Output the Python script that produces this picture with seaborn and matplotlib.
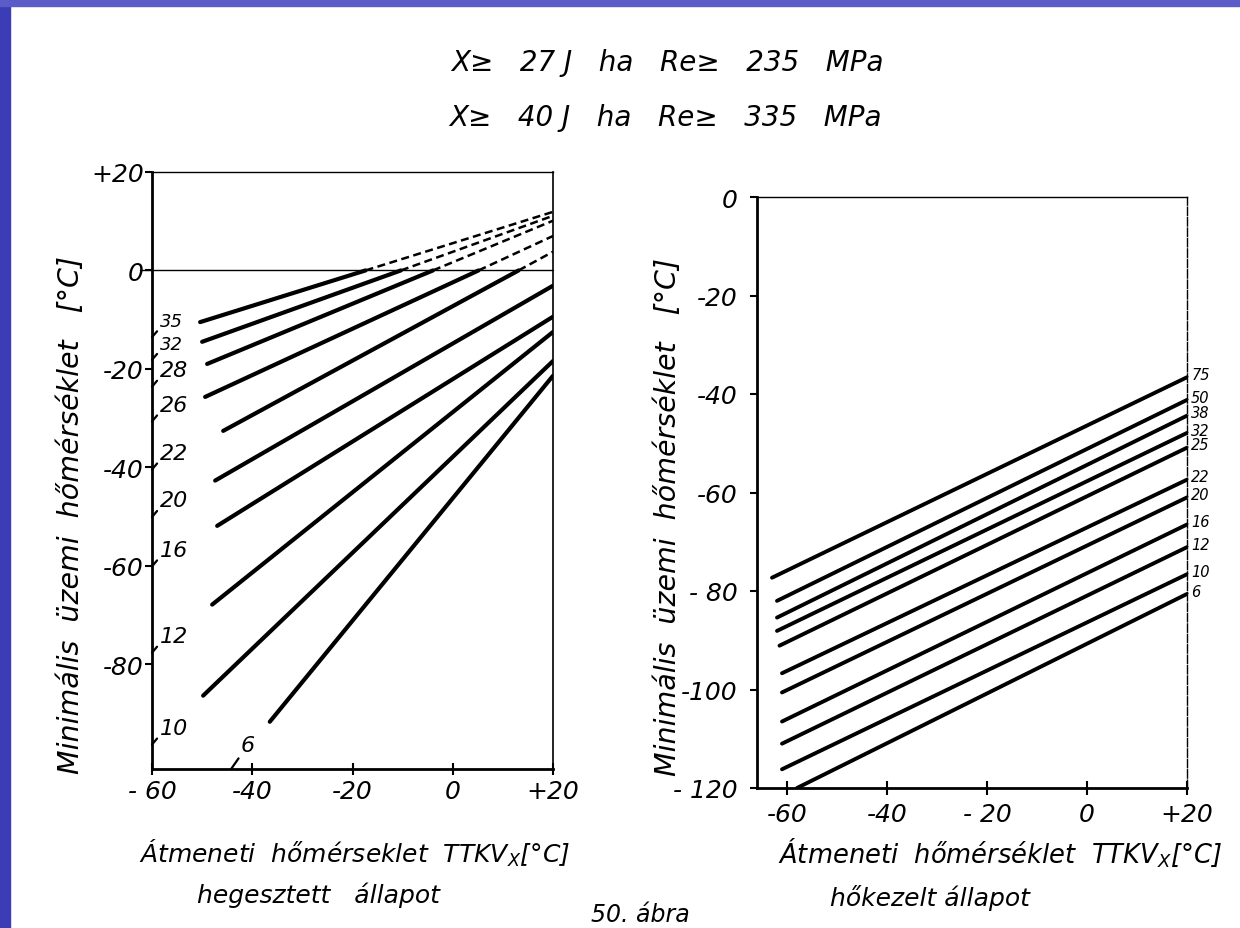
import numpy as np
import pandas as pd
import matplotlib
matplotlib.use("Agg")
import matplotlib.pyplot as plt
import seaborn as sns
from matplotlib.patches import Rectangle

# --- data ---
X_END = 20

# left chart: hegesztett allapot (curves labelled by plate thickness)
weld_labels = ['35', '32', '28', '26', '22', '20', '16', '12', '10', '6']
weld_x_start = [-50.4, -50.0, -49.0, -49.4, -45.8, -47.4, -47.0, -48.0, -49.8, -36.5]
weld_y_start = [-10.5, -14.5, -19.0, -25.7, -32.6, -42.7, -51.9, -67.9, -86.4, -91.7]
weld_y_end = [11.9, 11.1, 10.1, 7.0, 3.8, -3.1, -9.4, -12.5, -18.4, -21.4]

# right chart: hokezelt allapot
heat_labels = ['75', '50', '38', '32', '25', '22', '20', '16', '12', '10', '6']
heat_x_start = [-63, -62, -62, -62, -61.5, -61, -61, -61, -61, -61, -58]
heat_y_start = [-77.3, -82.0, -85.4, -88.1, -91.1, -96.7, -100.6, -106.5, -111.0, -116.2, -120.0]
heat_y_end = [-36.6, -41.2, -44.4, -47.9, -50.9, -57.4, -61.0, -66.5, -71.1, -76.6, -80.6]

x_ticks = [-60, -40, -20, 0, 20]
weld_xtick_labels = ['- 60', '-40', '-20', '0', '+20']
heat_xtick_labels = ['-60', '-40', '- 20', '0', '+20']
weld_y_ticks = [20, 0, -20, -40, -60, -80]
weld_ytick_labels = ['+20', '0', '-20', '-40', '-60', '-80']
heat_y_ticks = [0, -20, -40, -60, -80, -100, -120]
heat_ytick_labels = ['0', '-20', '-40', '-60', '- 80', '-100', '- 120']

W, H = 1240, 929


def line_at(x0, y0, y1, x):
    return y0 + (y1 - y0) * (x - x0) / (X_END - x0)


def px(x, y):
    return x / W, 1 - y / H


sns.set_theme(style="ticks")
plt.rcParams['font.family'] = ['DejaVu Sans']
plt.rcParams['font.style'] = 'italic'
plt.rcParams['mathtext.fontset'] = 'custom'
plt.rcParams['mathtext.rm'] = 'DejaVu Sans:italic'
plt.rcParams['mathtext.it'] = 'DejaVu Sans:italic'
for key in ['text.color', 'axes.labelcolor', 'xtick.color', 'ytick.color', 'axes.edgecolor']:
    plt.rcParams[key] = 'black'

fig = plt.figure(figsize=(W / 100, H / 100), dpi=100, facecolor='white')

# slide frame
fig.patches.append(Rectangle((0, 0), 10 / W, 1, transform=fig.transFigure, color='#3b3cb6', zorder=0))
fig.patches.append(Rectangle((0, 1 - 7 / H), 1, 7 / H, transform=fig.transFigure, color='#5c5cc8', zorder=0))

ax1 = fig.add_axes([152 / W, (H - 770) / H, 401 / W, 597 / H])
ax2 = fig.add_axes([757 / W, (H - 789) / H, 430 / W, 591 / H])

# --- left chart ---
ylim1 = (-101.3, 20)
solid_rows, dash_rows = [], []
for lab, x0, y0, y1 in zip(weld_labels, weld_x_start, weld_y_start, weld_y_end):
    if y1 > 0:
        xc = x0 + (0 - y0) * (X_END - x0) / (y1 - y0)
        solid_rows += [(lab, x0, y0), (lab, xc, 0.0)]
        dash_rows += [(lab, xc, 0.0), (lab, X_END, y1)]
    else:
        solid_rows += [(lab, x0, y0), (lab, X_END, y1)]
solid = pd.DataFrame(solid_rows, columns=['curve', 'x', 'y'])
dashed = pd.DataFrame(dash_rows, columns=['curve', 'x', 'y'])

sns.lineplot(data=solid, x='x', y='y', units='curve', estimator=None, sort=False,
             color='black', lw=3.0, solid_capstyle='round', ax=ax1)
sns.lineplot(data=dashed, x='x', y='y', units='curve', estimator=None, sort=False,
             color='black', lw=1.8, linestyle=(0, (3.2, 1.8)), ax=ax1)
ax1.axhline(0, xmin=-0.03, xmax=1, color='black', lw=1.0, clip_on=False)

for lab, x0, y0, y1 in zip(weld_labels, weld_x_start, weld_y_start, weld_y_end):
    if lab == '6':
        xb = x0 + (ylim1[0] - y0) * (X_END - x0) / (y1 - y0)
        ax1.annotate(lab, xy=(xb, ylim1[0]), xytext=(7, 10), textcoords='offset points',
                     fontsize=16, ha='left', va='bottom',
                     arrowprops=dict(arrowstyle='-', lw=1.6, color='black',
                                     shrinkA=0, shrinkB=0, relpos=(0, 0)))
        continue
    ya = line_at(x0, y0, y1, -60)
    fs = 13 if lab in ('35', '32') else 16
    ax1.annotate(lab, xy=(-60, ya), xytext=(6, 5), textcoords='offset points',
                 fontsize=fs, ha='left', va='bottom',
                 arrowprops=dict(arrowstyle='-', lw=1.6, color='black',
                                 shrinkA=0, shrinkB=0, relpos=(0, 0.15)))

ax1.set_xlim(-60, 20)
ax1.set_ylim(*ylim1)
ax1.set_xticks(x_ticks)
ax1.set_xticklabels(weld_xtick_labels, fontsize=18)
ax1.set_yticks(weld_y_ticks)
ax1.set_yticklabels(weld_ytick_labels, fontsize=18)
ax1.tick_params(axis='x', direction='inout', length=9, width=1.5, pad=3)
ax1.tick_params(axis='y', direction='out', length=5, width=1.5, pad=1)
ax1.set_xlabel('')
ax1.set_ylabel('')
for side, lw in [('left', 2.0), ('bottom', 2.0), ('top', 1.0), ('right', 1.2)]:
    ax1.spines[side].set_linewidth(lw)

# --- right chart ---
heat_rows = []
for lab, x0, y0, y1 in zip(heat_labels, heat_x_start, heat_y_start, heat_y_end):
    heat_rows += [(lab, x0, y0), (lab, X_END, y1)]
heat = pd.DataFrame(heat_rows, columns=['curve', 'x', 'y'])
sns.lineplot(data=heat, x='x', y='y', units='curve', estimator=None, sort=False,
             color='black', lw=2.8, solid_capstyle='round', ax=ax2)

for lab, y1 in zip(heat_labels, heat_y_end):
    ax2.annotate(lab, xy=(X_END, y1), xytext=(3, 2), textcoords='offset points',
                 fontsize=10.5, ha='left', va='center', annotation_clip=False,
                 arrowprops=dict(arrowstyle='-', lw=1.0, color='black',
                                 shrinkA=0, shrinkB=0, relpos=(0, 0.5)))

ax2.set_xlim(-66, 20)
ax2.set_ylim(-120, 0)
ax2.set_xticks(x_ticks)
ax2.set_xticklabels(heat_xtick_labels, fontsize=18)
ax2.set_yticks(heat_y_ticks)
ax2.set_yticklabels(heat_ytick_labels, fontsize=18)
ax2.tick_params(axis='x', direction='inout', length=10, width=1.5, pad=5)
ax2.tick_params(axis='y', direction='out', length=5, width=1.5, pad=9)
ax2.set_xlabel('')
ax2.set_ylabel('')
for side, lw in [('left', 2.0), ('bottom', 2.0), ('top', 1.0), ('right', 1.0)]:
    ax2.spines[side].set_linewidth(lw)
ax2.spines['right'].set_linestyle((0, (6, 1.5)))

# --- texts ---
fig.text(*px(451, 63), 'X≥   27 J   ha   Re≥   235   MPa', ha='left', va='center', fontsize=20)
fig.text(*px(449, 118), 'X≥   40 J   ha   Re≥   335   MPa', ha='left', va='center', fontsize=20)

ylab = 'Minimális  üzemi  hőmérséklet   [°C]'
fig.text(*px(71, 515), ylab, rotation=90, ha='center', va='center', fontsize=20.5)
fig.text(*px(668, 517), ylab, rotation=90, ha='center', va='center', fontsize=20.5)

xlab = r'Átmeneti  hőmérseklet  TTKV$_X$[°C]'
fig.text(*px(355, 853), xlab, ha='center', va='center', fontsize=18)
fig.text(*px(318, 895), 'hegesztett   állapot', ha='center', va='center', fontsize=18)
fig.text(*px(1000, 853), r'Átmeneti  hőmérséklet  TTKV$_X$[°C]', ha='center', va='center', fontsize=18.5)
fig.text(*px(930, 898), 'hőkezelt állapot', ha='center', va='center', fontsize=18)
fig.text(*px(640, 915), '50. ábra', ha='center', va='center', fontsize=17)

fig.savefig('out.png', dpi=100, facecolor='white')
